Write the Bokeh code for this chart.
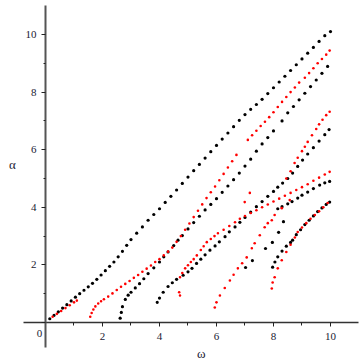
from bokeh.plotting import figure
from bokeh.models import Range1d, FixedTicker, Label
from bokeh.embed import file_html
from bokeh.resources import INLINE

# ---- data (omega, alpha) ----
b1_x = [0.15,0.3,0.45,0.6,0.75,0.9,1.05,1.2,1.35,1.5,1.65,1.8,1.95,2.1,2.25,2.4,2.55,2.7,2.85,3.0,3.2,3.4,3.6,3.8,4.0,4.2,4.4,4.6,4.8,5.0,5.2,5.4,5.6,5.8,6.0,6.2,6.4,6.6,6.8,7.0,7.2,7.4,7.6,7.8,8.0,8.2,8.4,8.6,8.8,9.0,9.2,9.4,9.6,9.8,10.0]
b1_y = [0.13,0.25,0.37,0.5,0.62,0.75,0.88,1.0,1.12,1.24,1.36,1.5,1.65,1.8,1.95,2.1,2.28,2.47,2.68,2.88,3.1,3.32,3.55,3.75,3.95,4.17,4.38,4.6,4.83,5.05,5.27,5.49,5.71,5.93,6.15,6.37,6.58,6.8,7.02,7.22,7.4,7.57,7.75,7.95,8.15,8.35,8.55,8.75,8.95,9.15,9.35,9.55,9.76,9.96,10.1]

b2_x = [2.62,2.66,2.7,2.8,2.9,3.0,3.15,3.3,3.45,3.6,3.8,4.0,4.15,4.3,4.5,4.65,4.8,5.0,5.2,5.4,5.6,5.8,6.0,6.2,6.4,6.6,6.8,7.0,7.2,7.4,7.6,7.8,8.0,8.3,8.5,8.7,8.9,9.1,9.3,9.5,9.7,9.9]
b2_y = [0.15,0.35,0.55,0.8,0.95,1.05,1.2,1.35,1.52,1.7,1.9,2.1,2.28,2.45,2.67,2.86,3.02,3.25,3.47,3.69,3.91,4.1,4.3,4.52,4.74,4.96,5.19,5.43,5.67,5.95,6.2,6.42,6.65,7.0,7.28,7.5,7.73,7.96,8.19,8.42,8.65,8.89]

b3_x = [3.92,4.0,4.13,4.3,4.45,4.6,4.83,5.0,5.14,5.3,5.45,5.6,5.77,5.95,6.1,6.3,6.45,6.65,6.82,7.0,7.2,7.4,7.6,7.8,8.0,8.15,8.32,8.5,8.67,8.85,9.02,9.2,9.4,9.6,9.8,9.95]
b3_y = [0.7,0.85,1.05,1.25,1.38,1.5,1.64,1.76,1.88,2.05,2.2,2.35,2.51,2.66,2.8,2.98,3.15,3.32,3.48,3.65,3.83,4.02,4.2,4.38,4.55,4.7,4.84,5.0,5.19,5.42,5.64,5.85,6.07,6.3,6.52,6.7]

b4_x = [7.02,7.26,7.72,7.96,8.18,8.35,8.15,8.3,8.5,8.65,8.85,9.0,9.2,9.4,9.62,9.8,9.97]
b4_y = [1.91,2.15,2.57,2.78,3.13,3.5,3.95,4.02,4.12,4.2,4.32,4.42,4.53,4.65,4.77,4.85,4.9]

b5_x = [7.97,8.05,8.15,8.3,8.45,8.6,8.67,8.8,8.95,9.1,9.25,9.4,9.55,9.7,9.85,9.97]
b5_y = [1.92,2.1,2.28,2.48,2.65,2.78,2.86,3.05,3.22,3.4,3.55,3.7,3.85,3.98,4.1,4.18]

r1_x = [0.25,0.4,0.55,0.7,0.85,1.0,1.1]
r1_y = [0.2,0.3,0.4,0.5,0.6,0.7,0.76]

r2_x = [1.57,1.62,1.68,1.75,1.85,1.95,2.05,2.2,2.35,2.5,2.65,2.8,2.95,3.1,3.25,3.4,3.55,3.7,3.85,4.0,4.15,4.3,4.45,4.6,4.75,4.9,5.05,5.2,5.35,5.5,5.65,5.8,5.95,6.1,6.25,6.4,6.55,6.7,7.1,7.25,7.4,7.55,7.7,7.85,8.0,8.15,8.3,8.45,8.6,8.75,8.9,9.1,9.25,9.4,9.55,9.7,9.85,9.97]
r2_y = [0.2,0.33,0.45,0.56,0.66,0.74,0.81,0.9,1.01,1.13,1.24,1.34,1.44,1.55,1.65,1.76,1.87,1.98,2.1,2.2,2.33,2.46,2.6,2.8,3.0,3.22,3.44,3.66,3.88,4.1,4.32,4.52,4.72,4.94,5.16,5.38,5.6,5.82,6.34,6.5,6.66,6.82,6.97,7.13,7.3,7.48,7.66,7.83,8.0,8.16,8.33,8.5,8.66,8.83,9.0,9.15,9.3,9.44]

r3_x = [4.72,4.8,4.9,5.0,5.1,5.2,5.31,5.45,5.55,5.66,5.8,5.93,6.05,6.25,6.45,6.65,6.82,7.0,7.2,7.4,7.6,7.8,8.0,8.2,8.4,8.6,8.8,9.0,9.2,9.4,9.6,9.8,9.97]
r3_y = [1.57,1.72,1.88,1.99,2.1,2.2,2.33,2.52,2.65,2.79,2.9,3.0,3.1,3.22,3.35,3.48,3.6,3.7,3.8,3.9,4.0,4.1,4.2,4.3,4.4,4.5,4.6,4.7,4.8,4.92,5.03,5.14,5.23]

r4_x = [6.99,7.17,8.45,8.6,8.74,8.85,9.0,9.1,9.2,9.35,9.5,9.6,9.72,9.85,9.97]
r4_y = [4.18,4.5,5.0,5.25,5.54,5.72,5.95,6.1,6.27,6.5,6.72,6.88,7.04,7.2,7.32]

r5_x = [7.94,7.97,8.04,8.15,8.29,8.45,8.6,8.75,8.85,9.0,9.15,9.3,9.45,9.6,9.75,9.9]
r5_y = [1.18,1.39,1.57,1.88,2.16,2.45,2.7,2.95,3.14,3.3,3.45,3.6,3.73,3.86,4.0,4.15]

r6_x = [4.69,4.72,5.94,6.0,6.12,6.29,6.47,6.6,6.75,6.9,7.06,7.24,7.34,7.52,7.69,7.8,7.94,8.04,8.29,8.57]
r6_y = [1.05,0.94,0.52,0.7,0.94,1.2,1.46,1.66,1.88,2.06,2.26,2.58,2.75,3.03,3.31,3.45,3.55,3.73,3.97,4.25]

black_x = b1_x + b2_x + b3_x + b4_x + b5_x
black_y = b1_y + b2_y + b3_y + b4_y + b5_y
red_x = r1_x + r2_x + r3_x + r4_x + r5_x + r6_x
red_y = r1_y + r2_y + r3_y + r4_y + r5_y + r6_y

major_ticks = [0, 2, 4, 6, 8, 10]
minor_ticks = [1, 3, 5, 7, 9]
x_label = "ω"
y_label = "α"
origin_label = "0"

FONT = "Liberation Serif"

p = figure(width=360, height=360, output_backend="svg", toolbar_location=None,
           x_range=Range1d(-1.579, 11.053), y_range=Range1d(-1.319, 11.18),
           min_border_left=0, min_border_right=0, min_border_top=0, min_border_bottom=0)
p.grid.visible = False
p.outline_line_color = None
p.background_fill_color = "white"
p.border_fill_color = "white"

for ax in (p.xaxis[0], p.yaxis[0]):
    ax.fixed_location = 0
    ax.ticker = FixedTicker(ticks=major_ticks, minor_ticks=minor_ticks)
    ax.major_label_overrides = {0: ""}
    ax.axis_line_color = "#333333"
    ax.axis_line_width = 1.5
    ax.major_tick_line_color = "#222222"
    ax.minor_tick_line_color = "#222222"
    ax.major_tick_in = 0
    ax.major_tick_out = 4
    ax.minor_tick_in = 0
    ax.minor_tick_out = 3
    ax.major_label_text_font = FONT
    ax.major_label_text_font_size = "11px"
    ax.major_label_text_color = "#1a1a33"
p.xaxis[0].bounds = (-0.77, 10.98)
p.yaxis[0].bounds = (-0.87, 11.0)
p.yaxis[0].axis_line_color = "#555555"
p.yaxis[0].axis_line_width = 2
p.yaxis[0].minor_tick_out = 2
p.xaxis[0].major_label_standoff = 6
p.yaxis[0].major_label_standoff = 5
p.yaxis[0].major_label_orientation = "horizontal"

p.scatter(black_x, black_y, size=3.2, color="black", line_width=0)
p.scatter(red_x, red_y, size=2.6, color="red", line_width=0)

p.add_layout(Label(x=5.47, y=-1.08, text=x_label, text_font=FONT, text_font_size="13px",
                   text_align="center", text_baseline="middle", text_color="#1a1a33"))
p.add_layout(Label(x=-1.16, y=5.49, text=y_label, text_font=FONT, text_font_size="13px",
                   text_align="center", text_baseline="middle", text_color="#1a1a33"))
p.add_layout(Label(x=-0.21, y=-0.38, text=origin_label, text_font=FONT, text_font_size="11px",
                   text_align="center", text_baseline="middle", text_color="#1a1a33"))

open("out.html", "w").write(file_html(p, INLINE))
